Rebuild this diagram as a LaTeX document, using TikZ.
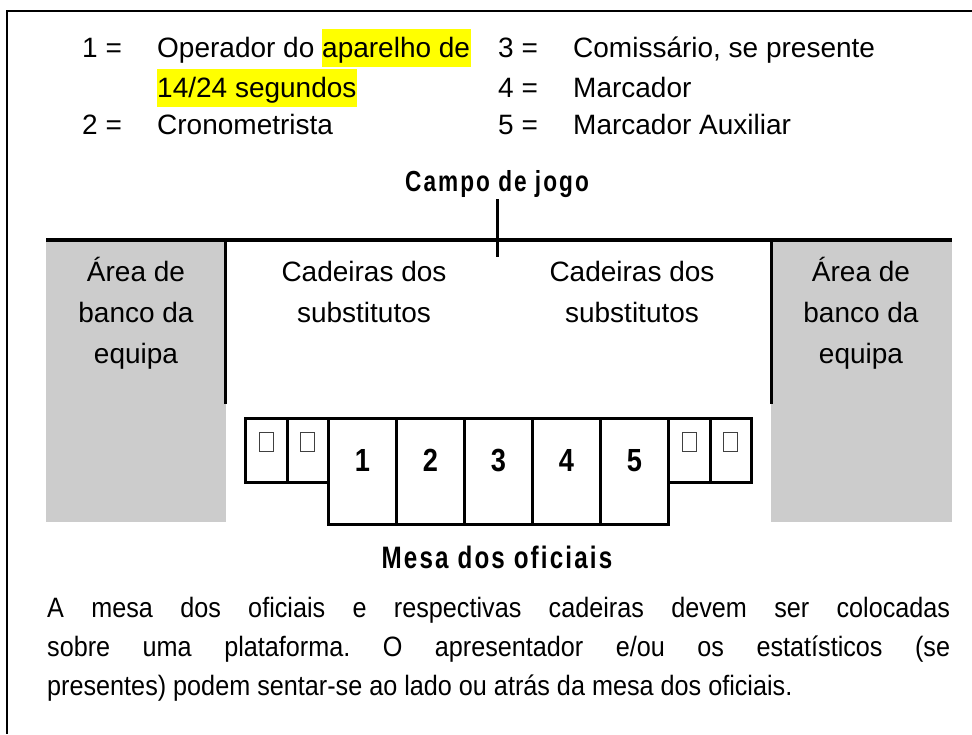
\documentclass[tikz,border=0pt]{standalone}
\usepackage{fontspec}
\setmainfont{Liberation Sans}
\newfontfamily\parafont{Liberation Sans}[FakeStretch=0.9]
\newfontfamily\headfont{Liberation Sans}[FakeStretch=0.78,LetterSpace=7]
\newfontfamily\numfont{Liberation Sans}[FakeStretch=0.85]
\definecolor{hlyellow}{RGB}{255,255,0}
\definecolor{benchgray}{RGB}{204,204,204}
\newcommand\hlt[1]{{\setlength{\fboxsep}{0pt}\colorbox{hlyellow}{\rule[-10pt]{0pt}{38pt}#1\hspace{1pt}}}}
\frenchspacing
\begin{document}
\begin{tikzpicture}[x=1pt,y=-1pt,
  frameline/.style={line width=2pt},
  fieldline/.style={line width=3.5pt},
  wallline/.style={line width=3pt},
  bench/.style={fill=benchgray, draw=none, minimum width=180pt, minimum height=282pt, anchor=north west, inner sep=0pt},
  chair/.style={draw, line width=3pt, minimum width=41.5pt, minimum height=64pt, anchor=north west, inner sep=0pt},
  seat/.style={draw, line width=3pt, minimum width=68pt, minimum height=106pt, anchor=north west, inner sep=0pt},
  sq/.style={draw=black!75, line width=0.8pt, minimum width=14pt, minimum height=19pt, inner sep=0pt},
  num/.style={font=\fontsize{32}{32}\numfont\bfseries, anchor=base, inner sep=0pt},
  lst/.style={font=\fontsize{28}{38}\selectfont, anchor=base west, inner sep=0pt},
  lbl/.style={font=\fontsize{28}{41}\selectfont, align=center, anchor=base, inner sep=0pt},
  head/.style={font=\fontsize{31}{32}\headfont\bfseries, anchor=base, inner sep=0pt}
]
\useasboundingbox (0,0) rectangle (972,734);
% frame
\draw[frameline] (972,11) -- (7,11) -- (7,734);
% legend
\node[lst] (k1) at (82,57) {1 =};
\node[lst] (t1) at (157,57) {Operador do \hlt{aparelho de}};
\node[lst] (t1b) at (157,97) {\hlt{14/24 segundos}};
\node[lst] (k2) at (82,134) {2 =};
\node[lst] (t2) at (157,134) {Cronometrista};
\node[lst] (k3) at (498,57) {3 =};
\node[lst] (t3) at (573,57) {Comissário, se presente};
\node[lst] (k4) at (498,97) {4 =};
\node[lst] (t4) at (573,97) {Marcador};
\node[lst] (k5) at (498,134) {5 =};
\node[lst] (t5) at (573,134) {Marcador Auxiliar};
% heading
\node[head, font=\fontsize{29}{32}\headfont\bfseries] (campo) at (497,191) {Campo de jogo};
% benches
\node[bench] (benchL) at (46,240) {};
\node[bench, minimum width=181pt] (benchR) at (771,240) {};
% lines
\draw[fieldline] (46,240) -- (952,240);
\draw[wallline] (497,199) -- (497,257);
\draw[wallline] (225,240) -- (225,404);
\draw[wallline] (771,240) -- (771,404);
% labels (base anchor = last line)
\node[lbl] (aL) at (136,363) {Área de\\banco da\\equipa};
\node[lbl] (aR) at (861,363) {Área de\\banco da\\equipa};
\node[lbl] (cL) at (364,322) {Cadeiras dos\\substitutos};
\node[lbl] (cR) at (632,322) {Cadeiras dos\\substitutos};
% table
\node[chair] (c1) at (244,417) {};
\node[chair] (c2) at (285.5,417) {};
\node[seat] (s1) at (327,417) {};
\node[seat] (s2) at (395,417) {};
\node[seat] (s3) at (463,417) {};
\node[seat] (s4) at (531,417) {};
\node[seat] (s5) at (599,417) {};
\node[chair] (c3) at (667,417) {};
\node[chair] (c4) at (708.5,417) {};
\foreach \c in {c1,c2,c3,c4}{
  \node[sq] (q\c) at (\c.north |- 0,442) {};
}
\foreach \s/\n in {s1/1,s2/2,s3/3,s4/4,s5/5}{
  \node[num] (n\s) at (\s.north |- 0,471) {\n};
}
\node[head] (mesa) at (497,568) {Mesa dos oficiais};
% paragraph
\node[font=\fontsize{28}{39}\parafont, text width=903pt, align=justify, anchor=base west, inner sep=0pt] (para) at (47,617)
 {A mesa dos oficiais e respectivas cadeiras devem ser colocadas\linebreak sobre uma plataforma. O apresentador e/ou os estatísticos (se\linebreak presentes) podem sentar-se ao lado ou atrás da mesa dos oficiais.};
\end{tikzpicture}
\end{document}
